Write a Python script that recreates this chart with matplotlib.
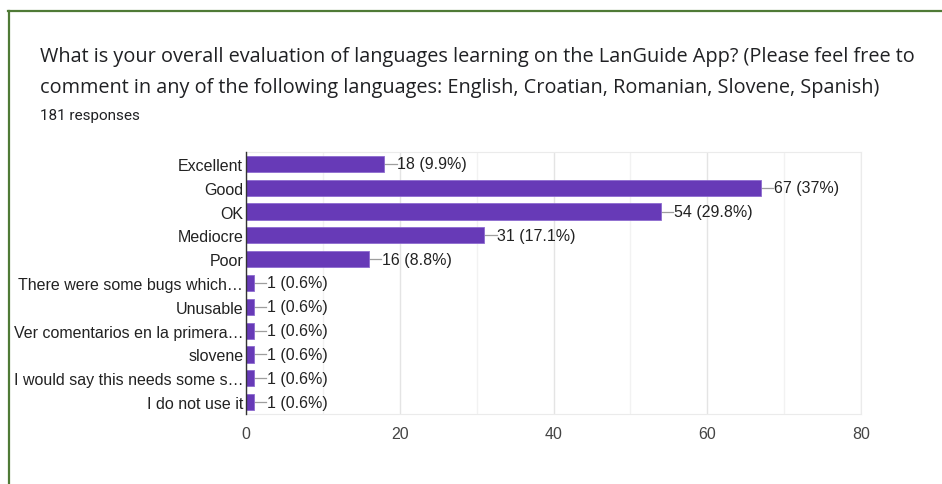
import matplotlib.pyplot as plt
from matplotlib.lines import Line2D

plt.rcParams['font.family'] = ['Liberation Sans', 'DejaVu Sans']

# data
categories = ["Excellent", "Good", "OK", "Mediocre", "Poor",
              "There were some bugs which\u2026", "Unusable",
              "Ver comentarios en la primera\u2026", "slovene",
              "I would say this needs some s\u2026", "I do not use it"]
counts = [18, 67, 54, 31, 16, 1, 1, 1, 1, 1, 1]
percents = ["9.9", "37", "29.8", "17.1", "8.8", "0.6", "0.6", "0.6", "0.6", "0.6", "0.6"]
xticks = [0, 20, 40, 60, 80]

title_lines = ["What is your overall evaluation of languages learning on the LanGuide App? (Please feel free to",
               "comment in any of the following languages: English, Croatian, Romanian, Slovene, Spanish)"]
subtitle = "181 responses"

W, H = 942, 485
fig = plt.figure(figsize=(W / 100, H / 100), dpi=100)
fig.patch.set_facecolor("white")

# green frame (top + left)
fig.add_artist(Line2D([8 / W, 1], [1 - 12 / H, 1 - 12 / H], color="#4f7a36", lw=1.6))
fig.add_artist(Line2D([9 / W, 9 / W], [0, 1 - 12 / H], color="#4f7a36", lw=1.6))

for i, line in enumerate(title_lines):
    fig.text(40 / W, 1 - (57 + 31 * i) / H, line, fontsize=14.3, color="#202124",
             va="center", ha="left", family=["Open Sans", "DejaVu Sans"])
fig.text(40 / W, 1 - 116 / H, subtitle, fontsize=11, color="#202124", va="center",
         family=["Roboto", "DejaVu Sans"])

ax = fig.add_axes([246 / W, 1 - 415 / H, (861 - 246) / W, (415 - 153) / H])
y = list(range(len(categories)))
ax.barh(y, counts, height=0.68, color="#673ab7", edgecolor="#8e6bd0", linewidth=0.6, zorder=3)
ax.set_ylim(len(categories) - 0.5, -0.5)
ax.set_xlim(0, 80)
ax.set_yticks(y)
ax.set_yticklabels(categories, fontsize=11.5, color="#222222")
ax.set_xticks(xticks)
ax.set_xticklabels([str(t) for t in xticks], fontsize=11.5, color="#444444")
ax.set_xticks([10, 30, 50, 70], minor=True)
ax.tick_params(axis="both", which="both", length=0, pad=2)
ax.tick_params(axis="x", pad=9, which="both")
ax.grid(axis="x", which="major", color="#e4e4e4", lw=1, zorder=0)
ax.grid(axis="x", which="minor", color="#f2f2f2", lw=1, zorder=0)
for s in ["top", "right", "bottom"]:
    ax.spines[s].set_color("#ebebeb")
ax.spines["left"].set_color("#333333")
ax.spines["left"].set_linewidth(1)
ax.spines["left"].set_zorder(4)

for yi, c, p in zip(y, counts, percents):
    ax.plot([c, c + 1.6], [yi, yi], color="#9e9e9e", lw=0.9, zorder=2)
    ax.text(c + 1.7, yi, f"{c} ({p}%)", fontsize=11.5, color="#222222", va="center", ha="left")

fig.savefig("out.png", dpi=100, facecolor="white")
